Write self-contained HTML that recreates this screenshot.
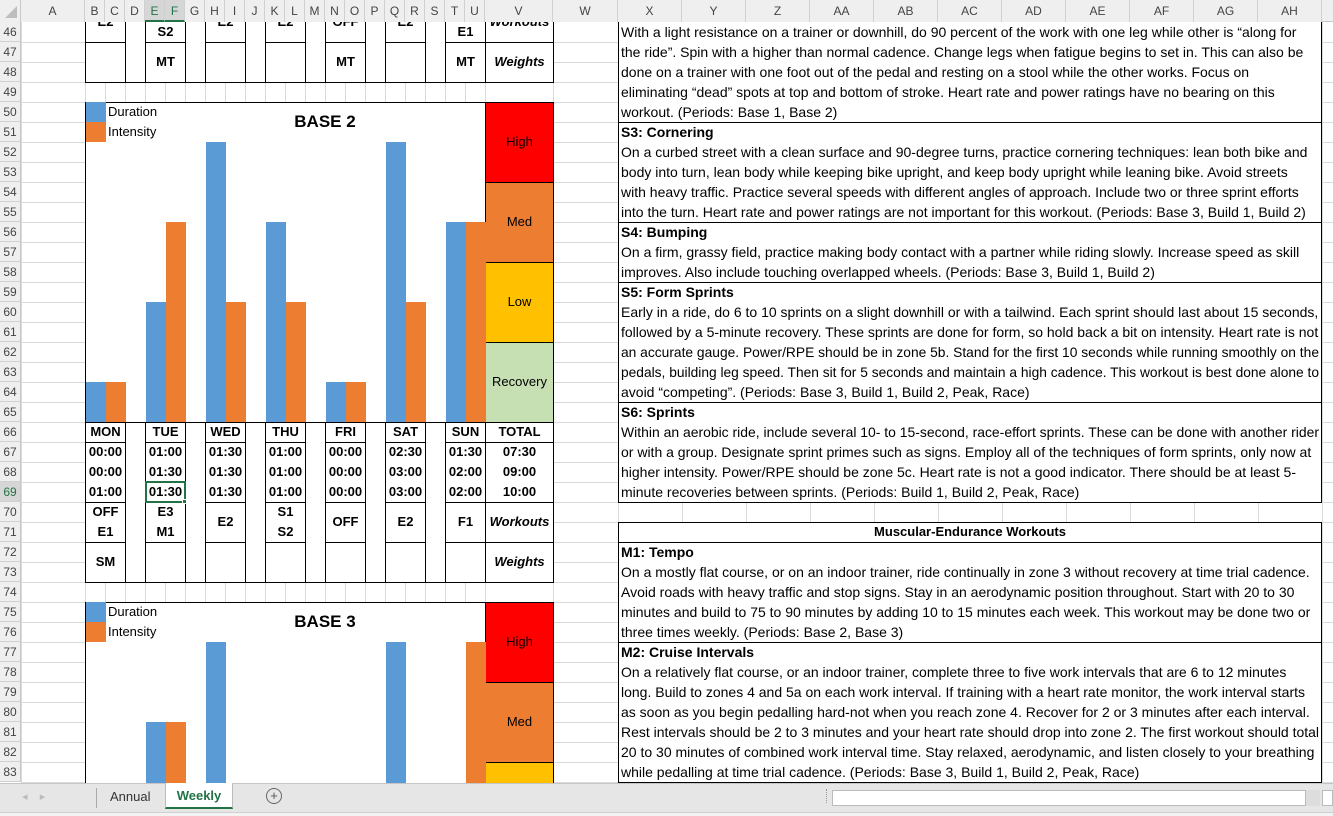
<!DOCTYPE html>
<html><head><meta charset="utf-8">
<style>
*{margin:0;padding:0;box-sizing:border-box}
html,body{width:1333px;height:816px;overflow:hidden}
body{background:#fff;font-family:"Liberation Sans",Arial,sans-serif;position:relative}
#clip{position:absolute;left:0;top:0;width:1333px;height:783px;overflow:hidden}
.a{position:absolute}
.gl{position:absolute;background:#dadada}
.hdr{position:absolute;background:#efefef;color:#444;font-size:12px;text-align:center}
.box{position:absolute;border:1px solid #000;background:#fff}
.c{position:absolute;text-align:center;font-weight:bold;font-size:13px;line-height:20px;color:#000}
.t{position:absolute;left:621px;font-size:14px;line-height:20px;white-space:nowrap;transform-origin:0 50%;color:#000}
</style></head><body>
<div id="clip"></div>
<div id="bar"></div>
<script>
var H='';
var MAXY=786;
function R(n){return 22+(n-46)*20;}
for(var n=46;n<=83;n++){H+='<div class="gl" style="left:21px;top:'+(R(n)+20)+'px;width:1312px;height:1px"></div>';}
var cols=[21,85,105,125,145,165,185,205,225,245,265,285,305,325,345,365,385,405,425,445,465,485,553,618,682,746,810,874,938,1002,1066,1130,1194,1258,1322];
cols.forEach(function(x){H+='<div class="gl" style="left:'+x+'px;top:0;width:1px;height:783px"></div>';});
var names=['A','B','C','D','E','F','G','H','I','J','K','L','M','N','O','P','Q','R','S','T','U','V','W','X','Y','Z','AA','AB','AC','AD','AE','AF','AG','AH'];
for(var n=46;n<=83;n++){H+='<div class="hdr" style="left:0;top:'+R(n)+'px;width:21px;height:20px;line-height:20px;border-bottom:1px solid #d0d0d0;border-right:1px solid #c8c8c8;'+(n==69?'background:#d6d6d6;color:#217346':'')+'">'+n+'</div>';}
var days=[[85,126],[145,186],[205,246],[265,306],[325,366],[385,426],[445,486]];
var V=[485,554];
function box(x0,x1,y0,y1,extra){y1=Math.min(y1,MAXY);H+='<div class="box" style="left:'+x0+'px;top:'+y0+'px;width:'+(x1-x0)+'px;height:'+(y1-y0+1)+'px;'+(extra||'')+'"></div>';}
function txt(x0,x1,yc,s,st){if(yc>775)return;H+='<div class="c" style="left:'+x0+'px;width:'+(x1-x0)+'px;top:'+(yc-10)+'px;'+(st||'')+'">'+s+'</div>';}
var all=days.concat([V]);
for(var i=0;i<6;i++){box(days[i][1]-1,days[i+1][0]+1,-20,82,'');}
all.forEach(function(d){box(d[0],d[1],-20,42);box(d[0],d[1],42,82);});
txt(85,126,22,'E2');txt(145,186,32,'S2');txt(205,246,22,'E2');txt(265,306,22,'E2');txt(325,366,22,'OFF');txt(385,426,22,'E2');txt(445,486,32,'E1');txt(485,554,22,'Workouts','font-style:italic');
txt(145,186,62,'MT');txt(325,366,62,'MT');txt(445,486,62,'MT');txt(485,554,62,'Weights','font-style:italic');
function chart(top,title,bars){
 box(85,486,top,top+320,'');
 var lv=[['#ff0000','High'],['#ed7d31','Med'],['#ffc000','Low'],['#c6e0b4','Recovery']];
 lv.forEach(function(l,i){var y0=top+i*80;if(y0>=MAXY)return;box(485,554,y0,y0+80,'background:'+l[0]);txt(485,554,y0+40,l[1],'font-weight:normal');});
 H+='<div class="a" style="left:86px;top:'+top+'px;width:20px;height:20px;background:#5b9bd5"></div>';
 H+='<div class="a" style="left:86px;top:'+(top+20)+'px;width:20px;height:20px;background:#ed7d31"></div>';
 H+='<div class="a" style="left:108px;top:'+top+'px;font-size:13px;line-height:20px">Duration</div>';
 H+='<div class="a" style="left:108px;top:'+(top+20)+'px;font-size:13px;line-height:20px">Intensity</div>';
 H+='<div class="c" style="left:245px;width:160px;top:'+(top+10)+'px;font-size:17px">'+title+'</div>';
 var bot=top+320;
 function bar(x,h,col){if(!h)return;var y0=bot-h,y1=Math.min(bot,MAXY);if(y0>=y1)return;
  H+='<div class="a" style="left:'+x+'px;top:'+y0+'px;width:20px;height:'+(y1-y0)+'px;background:'+col+'"></div>';}
 bars.forEach(function(b,i){var x=days[i][0]+1;bar(x,b[0],'#5b9bd5');bar(x+20,b[1],'#ed7d31');});
}
chart(102,'BASE 2',[[40,40],[120,200],[280,120],[200,120],[40,40],[280,120],[200,200]]);
chart(602,'BASE 3',[[0,0],[200,200],[280,0],[0,0],[0,0],[280,0],[0,280]]);
var dn=['MON','TUE','WED','THU','FRI','SAT','SUN','TOTAL'];
var tm=[['00:00','00:00','01:00'],['01:00','01:30','01:30'],['01:30','01:30','01:30'],['01:00','01:00','01:00'],['00:00','00:00','00:00'],['02:30','03:00','03:00'],['01:30','02:00','02:00'],['07:30','09:00','10:00']];
var wk=[['OFF','E1'],['E3','M1'],['E2'],['S1','S2'],['OFF'],['E2'],['F1'],['Workouts']];
var wt=['SM','','','','','','','Weights'];
for(var i=0;i<6;i++){box(days[i][1]-1,days[i+1][0]+1,422,582,'');}
all.forEach(function(d,i){
 box(d[0],d[1],422,442);box(d[0],d[1],442,502);box(d[0],d[1],502,542);box(d[0],d[1],542,582);
 txt(d[0],d[1],432,dn[i]);
 for(var k=0;k<3;k++)txt(d[0],d[1],452+k*20,tm[i][k]);
 var it=(i==7)?'font-style:italic':'';
 if(wk[i].length==2){txt(d[0],d[1],512,wk[i][0]);txt(d[0],d[1],532,wk[i][1]);}else txt(d[0],d[1],522,wk[i][0],it);
 txt(d[0],d[1],562,wt[i],it);
});
H+='<div class="a" style="left:145px;top:481px;width:41px;height:22px;border:2px solid #217346"></div>';
H+='<div class="a" style="left:182px;top:499px;width:5px;height:5px;background:#217346;border:1px solid #fff"></div>';
var L={46:'With a light resistance on a trainer or downhill, do 90 percent of the work with one leg while other is “along for',
47:'the ride”. Spin with a higher than normal cadence. Change legs when fatigue begins to set in. This can also be',
48:'done on a trainer with one foot out of the pedal and resting on a stool while the other works. Focus on',
49:'eliminating “dead” spots at top and bottom of stroke. Heart rate and power ratings have no bearing on this',
50:'workout. (Periods: Base 1, Base 2)',
51:'<b>S3: Cornering</b>',
52:'On a curbed street with a clean surface and 90-degree turns, practice cornering techniques: lean both bike and',
53:'body into turn, lean body while keeping bike upright, and keep body upright while leaning bike. Avoid streets',
54:'with heavy traffic. Practice several speeds with different angles of approach. Include two or three sprint efforts',
55:'into the turn. Heart rate and power ratings are not important for this workout. (Periods: Base 3, Build 1, Build 2)',
56:'<b>S4: Bumping</b>',
57:'On a firm, grassy field, practice making body contact with a partner while riding slowly. Increase speed as skill',
58:'improves. Also include touching overlapped wheels. (Periods: Base 3, Build 1, Build 2)',
59:'<b>S5: Form Sprints</b>',
60:'Early in a ride, do 6 to 10 sprints on a slight downhill or with a tailwind. Each sprint should last about 15 seconds,',
61:'followed by a 5-minute recovery. These sprints are done for form, so hold back a bit on intensity. Heart rate is not',
62:'an accurate gauge. Power/RPE should be in zone 5b. Stand for the first 10 seconds while running smoothly on the',
63:'pedals, building leg speed. Then sit for 5 seconds and maintain a high cadence. This workout is best done alone to',
64:'avoid “competing”. (Periods: Base 3, Build 1, Build 2, Peak, Race)',
65:'<b>S6: Sprints</b>',
66:'Within an aerobic ride, include several 10- to 15-second, race-effort sprints. These can be done with another rider',
67:'or with a group. Designate sprint primes such as signs. Employ all of the techniques of form sprints, only now at',
68:'higher intensity. Power/RPE should be zone 5c. Heart rate is not a good indicator. There should be at least 5-',
69:'minute recoveries between sprints. (Periods: Build 1, Build 2, Peak, Race)',
72:'<b>M1: Tempo</b>',
73:'On a mostly flat course, or on an indoor trainer, ride continually in zone 3 without recovery at time trial cadence.',
74:'Avoid roads with heavy traffic and stop signs. Stay in an aerodynamic position throughout. Start with 20 to 30',
75:'minutes and build to 75 to 90 minutes by adding 10 to 15 minutes each week. This workout may be done two or',
76:'three times weekly. (Periods: Base 2, Base 3)',
77:'<b>M2: Cruise Intervals</b>',
78:'On a relatively flat course, or an indoor trainer, complete three to five work intervals that are 6 to 12 minutes',
79:'long. Build to zones 4 and 5a on each work interval. If training with a heart rate monitor, the work interval starts',
80:'as soon as you begin pedalling hard-not when you reach zone 4. Recover for 2 or 3 minutes after each interval.',
81:'Rest intervals should be 2 to 3 minutes and your heart rate should drop into zone 2. The first workout should total',
82:'20 to 30 minutes of combined work interval time. Stay relaxed, aerodynamic, and listen closely to your breathing',
83:'while pedalling at time trial cadence. (Periods: Base 3, Build 1, Build 2, Peak, Race)'};
var secs=[[46,51],[51,56],[56,59],[59,65],[65,70],[71,72],[72,77],[77,84]];
secs.forEach(function(s){box(618,1322,s[0]==46?-10:R(s[0]),R(s[1]),'');});
for(var k in L){H+='<div class="t" style="top:'+R(+k)+'px">'+L[k]+'</div>';}
H+='<div class="c" style="left:618px;width:704px;top:'+R(71)+'px">Muscular-Endurance Workouts</div>';
H+='<div class="hdr" style="left:0;top:0;width:1333px;height:22px;border-bottom:1px solid #c8c8c8"></div>';
for(var i=0;i<names.length;i++){var x0=cols[i],x1=cols[i+1];var hl=(names[i]=='E'||names[i]=='F');
H+='<div class="hdr" style="left:'+x0+'px;top:0;width:'+(x1-x0)+'px;height:22px;line-height:22px;border-right:1px solid #d0d0d0;'+(hl?'background:#d6d6d6;color:#217346;border-bottom:2px solid #217346':'')+'">'+names[i]+'</div>';}
H+='<div class="hdr" style="left:0;top:0;width:21px;height:22px;border-right:1px solid #c8c8c8"></div><div class="a" style="left:5px;top:6px;width:0;height:0;border-left:12px solid transparent;border-bottom:12px solid #bdbdbd"></div>';
document.getElementById('clip').innerHTML=H;
var T='<div class="a" style="left:0;top:783px;width:1333px;height:29px;background:#e6e6e6;border-top:1px solid #c6c6c6"></div>';
T+='<div class="a" style="left:0;top:812px;width:1333px;height:4px;background:#f3f3f3;border-top:1px solid #d0d0d0"></div>';
T+='<div class="a" style="left:22px;top:790px;font-size:11px;color:#bbb">◂&nbsp;&nbsp;&nbsp;&nbsp;▸</div>';
T+='<div class="a" style="left:96px;top:788px;width:1px;height:20px;background:#aaa"></div>';
T+='<div class="a" style="left:110px;top:789px;font-size:13px;color:#333">Annual</div>';
T+='<div class="a" style="left:165px;top:783px;width:68px;height:26px;background:#fff;border-bottom:2px solid #217346;border-left:1px solid #bbb;border-right:1px solid #bbb;font-size:13px;font-weight:bold;color:#217346;text-align:center;line-height:26px">Weekly</div>';
T+='<div class="a" style="left:266px;top:788px;width:16px;height:16px;border:1px solid #666;border-radius:50%;font-size:13px;line-height:14px;text-align:center;color:#555">+</div>';
T+='<div class="a" style="left:826px;top:789px;width:2px;height:14px;border-left:1px dotted #999"></div>';
T+='<div class="a" style="left:832px;top:790px;width:474px;height:16px;background:#fff;border:1px solid #bbb"></div>';
T+='<div class="a" style="left:1306px;top:790px;width:14px;height:16px;background:#ddd"></div>';
T+='<div class="a" style="left:1322px;top:790px;width:11px;height:16px;background:#fff;border:1px solid #bbb"></div>';
document.getElementById('bar').innerHTML=T;
document.querySelectorAll('.t').forEach(function(e){var w=e.getBoundingClientRect().width;if(w>698)e.style.transform='scaleX('+(698/w)+')';});
</script>
</body></html>
